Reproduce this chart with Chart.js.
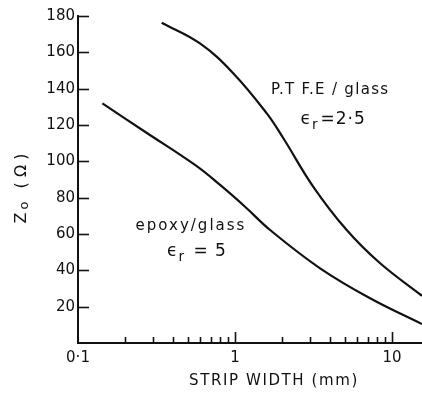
<!DOCTYPE html>
<html>
<head>
<meta charset="utf-8">
<script src="https://cdn.jsdelivr.net/npm/chart.js@4/dist/chart.umd.min.js"></script>
<style>
  html, body { margin: 0; padding: 0; background: #fff; }
  #wrap { width: 422px; height: 393px; }
</style>
</head>
<body>
<div id="wrap"><canvas id="c" width="422" height="393"></canvas></div>
<script>
// Characteristic impedance Z0 of microstrip vs strip width
const epoxyWidth = [0.143, 0.267, 0.556, 0.803, 1.158, 1.671, 3.48, 7.24, 15.5];
const epoxyZ0    = [131.9, 116.3, 98.0, 87.0, 75.0, 62.2, 41.1, 24.6, 10.4];
const ptfeWidth  = [0.341, 0.598, 0.976, 1.592, 2.03, 3.15, 5.14, 8.39, 15.5];
const ptfeZ0     = [176.3, 164.9, 148.4, 126.4, 112.7, 86.0, 62.2, 43.9, 26.0];

const xMajorTicks = [0.1, 1, 10];
const xMinorTicks = [0.2, 0.3, 0.4, 0.5, 0.6, 0.7, 0.8, 0.9, 2, 3, 4, 5, 6, 7, 8, 9];
const xTickLabels = { 0.1: '0·1', 1: '1', 10: '10' };
const yTicks = [20, 40, 60, 80, 100, 120, 140, 160, 180];

const INK = '#111';
const FONT = '"DejaVu Sans", sans-serif';

function pts(xs, ys) { return xs.map((x, i) => ({ x, y: ys[i] })); }

// Text with a subscript after the first glyph (e.g. ϵ_r = 5), centred on x
function drawSubText(ctx, x, y, main, sub, rest, size) {
  ctx.letterSpacing = '1px';
  ctx.font = size + 'px ' + FONT;
  const wMain = ctx.measureText(main).width;
  ctx.font = (size * 0.8) + 'px ' + FONT;
  const wSub = ctx.measureText(sub).width;
  ctx.font = size + 'px ' + FONT;
  const wRest = ctx.measureText(rest).width;
  const total = wMain + wSub + 2 + wRest;
  let cx = x - total / 2;
  ctx.textAlign = 'left';
  ctx.textBaseline = 'alphabetic';
  ctx.fillText(main, cx, y);
  cx += wMain;
  ctx.font = (size * 0.8) + 'px ' + FONT;
  ctx.fillText(sub, cx, y + size * 0.3);
  cx += wSub + 2;
  ctx.font = size + 'px ' + FONT;
  ctx.fillText(rest, cx, y);
  ctx.letterSpacing = '0px';
}

const decorations = {
  id: 'decorations',
  afterDraw(chart) {
    const ctx = chart.ctx;
    const xs = chart.scales.x, ys = chart.scales.y;
    const area = chart.chartArea;
    ctx.save();
    ctx.strokeStyle = INK;
    ctx.fillStyle = INK;
    ctx.lineWidth = 1.6;
    // inward tick marks on the x axis (the 0.1 tick sits on the y axis)
    xMajorTicks.concat(xMinorTicks).forEach(v => {
      const px = Math.round(xs.getPixelForValue(v)) + 0.5;
      if (px <= area.left + 2) return;
      const len = xMajorTicks.includes(v) ? 11 : 6;
      ctx.beginPath();
      ctx.moveTo(px, area.bottom);
      ctx.lineTo(px, area.bottom - len);
      ctx.stroke();
    });
    // inward tick marks on the y axis
    yTicks.forEach(v => {
      const py = Math.round(ys.getPixelForValue(v)) + 0.5;
      ctx.beginPath();
      ctx.moveTo(area.left, py);
      ctx.lineTo(area.left + 11, py);
      ctx.stroke();
    });

    // curve labels
    ctx.font = '15px ' + FONT;
    ctx.letterSpacing = '1.3px';
    ctx.textAlign = 'center';
    ctx.textBaseline = 'alphabetic';
    let lx = xs.getPixelForValue(4.03);
    ctx.fillText('P.T F.E / glass', lx, ys.getPixelForValue(139) + 4);
    drawSubText(ctx, lx + 3, ys.getPixelForValue(124) + 6, 'ϵ', 'r', '=2·5', 17);

    lx = xs.getPixelForValue(0.524);
    ctx.font = '15px ' + FONT;
    ctx.letterSpacing = '2px';
    ctx.textAlign = 'center';
    ctx.fillText('epoxy/glass', lx, ys.getPixelForValue(65) + 5);
    drawSubText(ctx, lx + 6, ys.getPixelForValue(51) + 6, 'ϵ', 'r', ' = 5', 17);

    // x axis title
    ctx.font = '15px ' + FONT;
    ctx.letterSpacing = '1.6px';
    ctx.textAlign = 'center';
    ctx.textBaseline = 'middle';
    ctx.fillText('STRIP WIDTH (mm)', 274, 381);
    ctx.letterSpacing = '0px';

    // y axis title, rotated
    ctx.translate(22, 187);
    ctx.rotate(-Math.PI / 2);
    ctx.textBaseline = 'middle';
    ctx.textAlign = 'left';
    const parts = [['Z', 0, 16], ['o', 3, 13], ['  ( Ω )', 0, 16]];
    let total = 0;
    parts.forEach(p => { ctx.font = p[2] + 'px ' + FONT; total += ctx.measureText(p[0]).width + 3; });
    let cx = -total / 2;
    parts.forEach(p => {
      ctx.font = p[2] + 'px ' + FONT;
      ctx.fillText(p[0], cx, p[1]);
      cx += ctx.measureText(p[0]).width + 3;
    });
    ctx.restore();
  }
};

new Chart(document.getElementById('c'), {
  type: 'scatter',
  data: {
    datasets: [
      { label: 'epoxy/glass', data: pts(epoxyWidth, epoxyZ0) },
      { label: 'P.T.F.E/glass', data: pts(ptfeWidth, ptfeZ0) }
    ].map(d => Object.assign(d, {
      showLine: true,
      borderColor: INK,
      borderWidth: 2.2,
      pointRadius: 0,
      fill: false,
      tension: 0.4
    }))
  },
  options: {
    responsive: false,
    animation: false,
    layout: { padding: { top: 16, right: 0, left: 0, bottom: 0 } },
    plugins: { legend: { display: false }, tooltip: { enabled: false } },
    scales: {
      x: {
        type: 'logarithmic',
        min: 0.1,
        max: 15.5,
        afterBuildTicks: s => { s.ticks = xMajorTicks.map(v => ({ value: v, major: true })); },
        afterFit: s => { s.height = 50; },
        grid: { display: false, drawTicks: false },
        border: { display: true, color: INK, width: 2 },
        ticks: {
          autoSkip: false,
          maxRotation: 0,
          padding: 6,
          color: INK,
          font: { family: FONT, size: 15 },
          callback: v => xTickLabels[v] || ''
        }
      },
      y: {
        type: 'linear',
        min: 0,
        max: 180,
        afterBuildTicks: s => { s.ticks = yTicks.map(v => ({ value: v })); },
        afterFit: s => { s.width = 78; },
        grid: { display: false, drawTicks: false },
        border: { display: true, color: INK, width: 2 },
        ticks: {
          padding: 3,
          color: INK,
          font: { family: FONT, size: 15 }
        }
      }
    }
  },
  plugins: [decorations]
});
</script>
</body>
</html>
